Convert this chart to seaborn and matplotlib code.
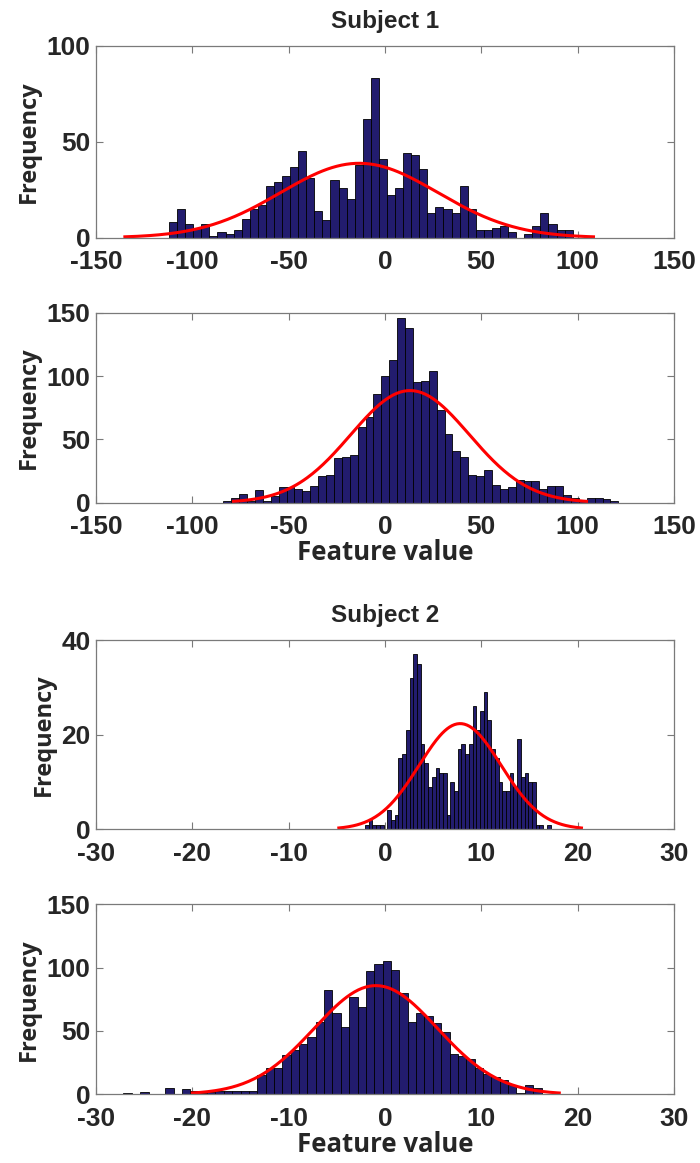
import numpy as np
import pandas as pd
import matplotlib
matplotlib.use("Agg")
import matplotlib.pyplot as plt
import seaborn as sns

# ---------------- data ----------------
# Subject 1, first feature
s1a_counts = [8, 15, 7, 5, 7, 1, 3, 2, 4, 10,
              15, 17, 27, 29, 32, 37, 45, 31, 14, 9,
              30, 26, 20, 38, 62, 83, 41, 22, 26, 44,
              43, 36, 13, 16, 15, 13, 27, 15, 4, 4,
              5, 6, 3, 0, 2, 6, 13, 7, 4, 4]
s1a_start, s1a_width = -112.1, 4.19
s1a_mu, s1a_sigma = -13.4, 40.8

# Subject 1, second feature
s1b_counts = [1, 4, 7, 1, 10, 1, 5, 12, 12, 11,
              9, 13, 21, 22, 35, 36, 38, 60, 68, 86,
              100, 113, 146, 138, 95, 96, 104, 73, 54, 41,
              36, 22, 21, 26, 14, 11, 12, 18, 17, 17,
              11, 13, 13, 6, 4, 2, 4, 4, 3, 1]
s1b_start, s1b_width = -83.9, 4.10
s1b_mu, s1b_sigma = 13.0, 30.8

# Subject 2, first feature
s2a_counts = [1, 2, 1, 1, 1, 0, 4, 2, 3, 15,
              16, 21, 32, 37, 35, 18, 14, 9, 11, 13,
              12, 12, 3, 10, 8, 17, 18, 16, 18, 26,
              21, 25, 29, 23, 17, 15, 10, 8, 8, 12,
              9, 19, 11, 12, 10, 10, 1, 1, 0, 1]
s2a_start, s2a_width = -2.07, 0.385
s2a_mu, s2a_sigma = 7.8, 4.25

# Subject 2, second feature
s2b_counts = [1, 0, 2, 0, 0, 5, 0, 4, 3, 1,
              2, 3, 3, 3, 3, 3, 15, 21, 21, 31,
              35, 40, 45, 57, 82, 64, 53, 77, 69, 97,
              103, 105, 98, 80, 57, 64, 62, 56, 49, 32,
              30, 28, 21, 16, 14, 11, 7, 1, 7, 5]
s2b_start, s2b_width = -27.15, 0.868
s2b_mu, s2b_sigma = -0.95, 6.4

titles = ["Subject 1", None, "Subject 2", None]
xlabels = [None, "Feature value", None, "Feature value"]
xticks_s1 = [-150, -100, -50, 0, 50, 100, 150]
xticks_s2 = [-30, -20, -10, 0, 10, 20, 30]
yticks_list = [[0, 50, 100], [0, 50, 100, 150], [0, 20, 40], [0, 50, 100, 150]]
ylims = [100, 150, 40, 150]

# ---------------- style ----------------
sns.set_style("white")
plt.rcParams["font.family"] = ["Liberation Sans", "DejaVu Sans"]

BAR = "#221c6e"
SPINE = "#7a7a7a"

fig = plt.figure(figsize=(7.0, 11.63), dpi=100)
W, H = 700.0, 1163.0
boxes = [(96, 45.7, 674, 237.7), (96, 312.7, 674, 502.7),
         (96, 640.0, 674, 829.3), (96, 904.3, 674, 1094.3)]

panels = [
    (s1a_counts, s1a_start, s1a_width, s1a_mu, s1a_sigma, xticks_s1),
    (s1b_counts, s1b_start, s1b_width, s1b_mu, s1b_sigma, xticks_s1),
    (s2a_counts, s2a_start, s2a_width, s2a_mu, s2a_sigma, xticks_s2),
    (s2b_counts, s2b_start, s2b_width, s2b_mu, s2b_sigma, xticks_s2),
]

for k, (counts, start, width, mu, sigma, xt) in enumerate(panels):
    l, t, r, b = boxes[k]
    ax = fig.add_axes([l / W, 1 - b / H, (r - l) / W, (b - t) / H])
    counts = np.asarray(counts, dtype=float)
    nb = len(counts)
    centers = start + width * (np.arange(nb) + 0.5)
    df = pd.DataFrame({"value": centers, "count": counts})
    sns.histplot(data=df, x="value", weights="count", bins=nb,
                 binrange=(start, start + nb * width), ax=ax,
                 color=BAR, edgecolor="black", linewidth=0.6, alpha=1.0)
    # normal fit curve (histfit style, mu +/- 3 sigma)
    xs = np.linspace(mu - 3 * sigma, mu + 3 * sigma, 200)
    ys = counts.sum() * width * np.exp(-0.5 * ((xs - mu) / sigma) ** 2) / (sigma * np.sqrt(2 * np.pi))
    ax.plot(xs, ys, color="#ff0000", lw=2.2, solid_capstyle="butt")

    ax.set_xlim(xt[0], xt[-1])
    ax.set_ylim(0, ylims[k])
    ax.set_xticks(xt)
    ax.set_yticks(yticks_list[k])
    ax.set_xticklabels([str(v) for v in xt], fontsize=19, fontweight="bold")
    ax.set_yticklabels([str(v) for v in yticks_list[k]], fontsize=19, fontweight="bold")
    ax.tick_params(direction="in", length=5, width=0.8, color=SPINE,
                   top=True, right=True, bottom=True, left=True)
    ax.tick_params(axis="x", pad=9)
    ax.tick_params(axis="y", pad=4)
    for sp in ax.spines.values():
        sp.set_visible(True)
        sp.set_color(SPINE)
        sp.set_linewidth(0.9)
    ax.set_ylabel("Frequency", fontsize=17, fontweight="bold",
                  family=["Open Sans", "DejaVu Sans"], labelpad=4)
    if xlabels[k]:
        ax.set_xlabel(xlabels[k], fontsize=18.5, fontweight="bold",
                      family=["Open Sans", "DejaVu Sans"], labelpad=0)
    else:
        ax.set_xlabel("")
    if titles[k]:
        ax.set_title(titles[k], fontsize=17.5, fontweight="bold", pad=13)

fig.savefig("out.png", dpi=100, facecolor="white")
